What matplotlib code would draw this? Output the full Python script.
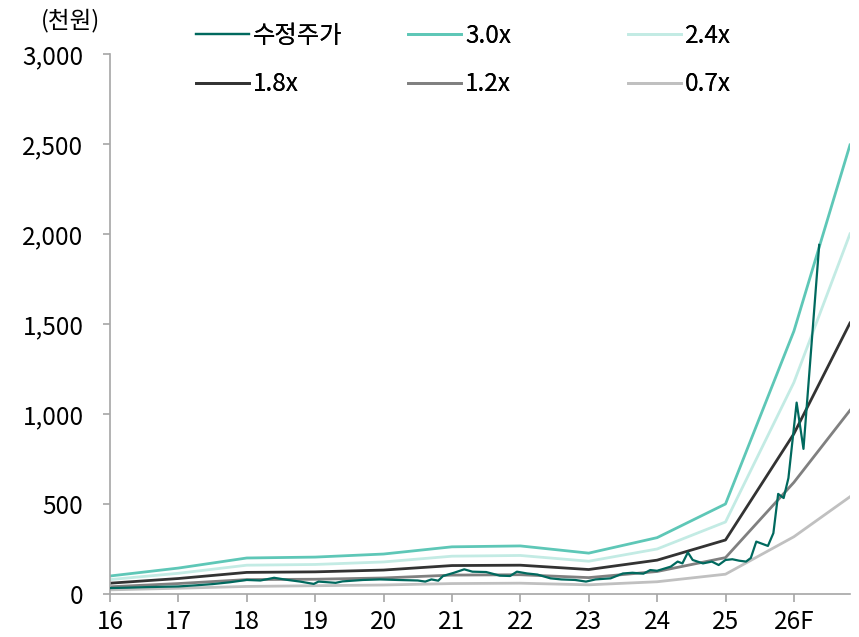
import matplotlib.pyplot as plt
import numpy as np

plt.rcParams['font.family'] = ['Noto Sans CJK KR', 'DejaVu Sans']

# band x positions (year, last point = right edge of chart)
band_x = [16, 17, 18, 19, 20, 21, 22, 23, 24, 25, 26, 26.82]
band_30 = [100, 144, 200, 205, 222, 262, 267, 227, 313, 500, 1460, 2494]
band_24 = [80, 115, 160, 164, 178, 210, 214, 182, 250, 400, 1175, 2000]
band_18 = [60, 86, 120, 123, 133, 158, 160, 136, 188, 300, 890, 1505]
band_12 = [40, 58, 80, 82, 89, 105, 107, 91, 125, 202, 620, 1020]
band_07 = [23, 32, 42, 46, 50, 58, 60, 51, 68, 110, 318, 540]

# adjusted share price (천원)
price_t = [16.0, 16.25, 16.5, 16.75, 17.0, 17.25, 17.5, 17.75, 18.0, 18.2, 18.4, 18.6,
           18.78, 18.98, 19.05, 19.3, 19.4, 19.7, 19.95, 20.2, 20.5, 20.61, 20.7, 20.8,
           20.87, 21.03, 21.18, 21.3, 21.5, 21.7, 21.85, 21.95, 22.1, 22.25, 22.44, 22.6,
           22.8, 22.96, 23.1, 23.32, 23.5, 23.64, 23.8, 23.9, 24.0, 24.2, 24.3, 24.37,
           24.45, 24.52, 24.67, 24.8, 24.9, 25.0, 25.1, 25.2, 25.3, 25.37, 25.45, 25.62,
           25.7, 25.77, 25.85, 25.92, 26.04, 26.14, 26.37]
price_v = [33, 35, 38, 40, 42, 48, 55, 65, 78, 75, 90, 78,
           69, 56, 69, 62, 70, 78, 81, 78, 75, 69, 81, 74,
           100, 118, 137, 124, 122, 102, 100, 124, 114, 108, 87, 81,
           78, 69, 81, 87, 114, 118, 113, 133, 129, 152, 180, 170,
           231, 189, 170, 180, 161, 189, 193, 185, 180, 200, 291, 267,
           338, 556, 533, 644, 1063, 806, 1939]

years = list(range(16, 27))
year_labels = ['16', '17', '18', '19', '20', '21', '22', '23', '24', '25', '26F']

fig = plt.figure(figsize=(8.59, 6.37), dpi=100)
ax = fig.add_axes([0.128, 0.0675, 0.8615, 0.848])

h_price, = ax.plot(price_t, price_v, color='#00695e', lw=1.6, label='수정주가', zorder=6)
h30, = ax.plot(band_x, band_30, color='#5ec7b7', lw=2, label='3.0x')
h24, = ax.plot(band_x, band_24, color='#c3ebe4', lw=2, label='2.4x')
h18, = ax.plot(band_x, band_18, color='#333333', lw=2, label='1.8x')
h12, = ax.plot(band_x, band_12, color='#808080', lw=2, label='1.2x')
h07, = ax.plot(band_x, band_07, color='#c0c0c0', lw=2, label='0.7x')

ax.set_xlim(16, 26.82)
ax.set_ylim(0, 3000)
ax.set_yticks(np.arange(0, 3001, 500))
ax.set_yticklabels([f'{v:,}' for v in range(0, 3001, 500)])
ax.set_xticks(years)
ax.set_xticklabels(year_labels)

for s in ['top', 'right']:
    ax.spines[s].set_visible(False)
for s in ['left', 'bottom']:
    ax.spines[s].set_color('#a6a6a6')
    ax.spines[s].set_linewidth(1.2)
ax.tick_params(axis='y', length=5, width=1.2, color='#a6a6a6', pad=14, labelsize=17.5)
ax.tick_params(axis='x', length=6, width=1.2, color='#a6a6a6', pad=5, labelsize=17.5)

fig.text(0.082, 0.967, '(천원)', ha='center', va='center', fontsize=17)

# legend: one block per column so the columns sit where the reference has them
cols = [([h_price, h18], ['수정주가', '1.8x'], 0.222),
        ([h30, h12], ['3.0x', '1.2x'], 0.469),
        ([h24, h07], ['2.4x', '0.7x'], 0.725)]
for hs, labs, x0 in cols:
    leg = fig.legend(hs, labs, loc='upper left', bbox_to_anchor=(x0, 0.972),
                     frameon=False, fontsize=17.5, handlelength=2.2,
                     handletextpad=0.15, labelspacing=0.92, borderaxespad=0,
                     borderpad=0.2)
    fig.add_artist(leg)

fig.savefig('out.png', dpi=100)
